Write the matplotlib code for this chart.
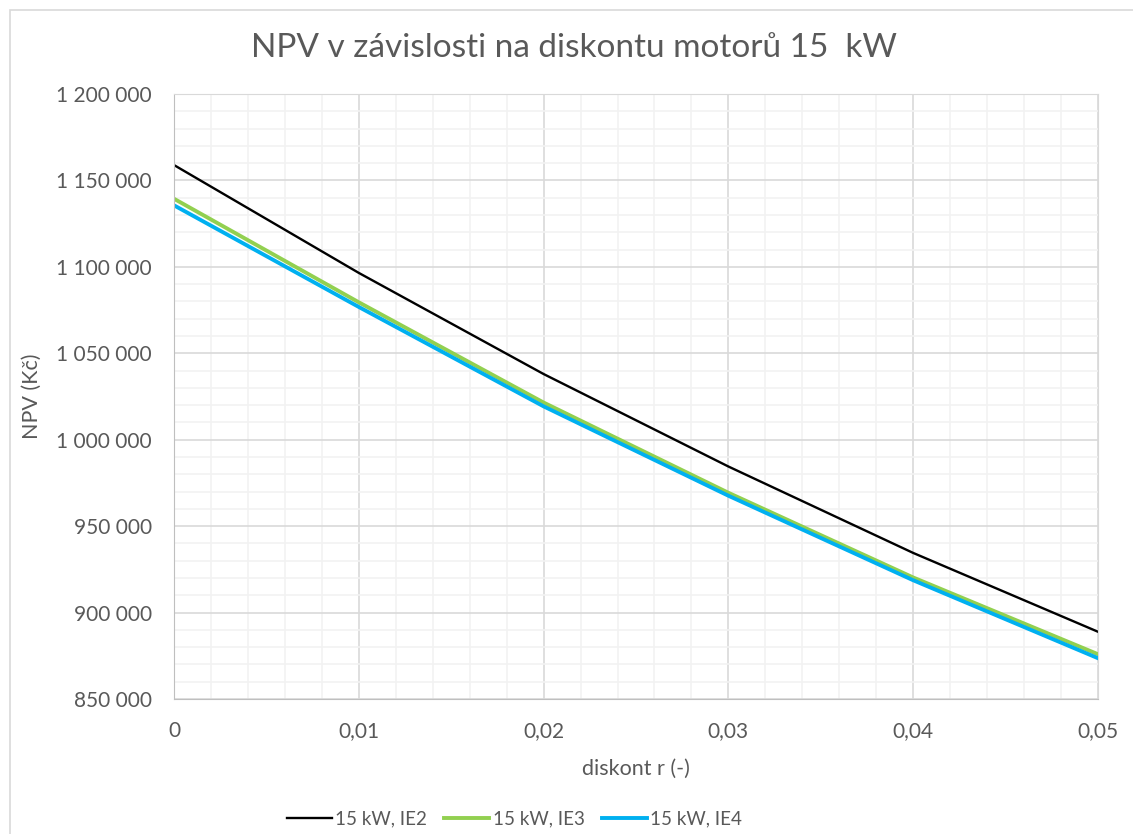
import numpy as np
import matplotlib.pyplot as plt
from matplotlib.patches import Rectangle
from matplotlib.ticker import MultipleLocator, FuncFormatter

# discount rate and NPV values
r = [0.0, 0.01, 0.02, 0.03, 0.04, 0.05]
npv_ie2 = [1158900, 1096500, 1038000, 984500, 934500, 888900]
npv_ie3 = [1139400, 1079500, 1021500, 969300, 920300, 875900]
npv_ie4 = [1135600, 1076800, 1019300, 967600, 918700, 873600]
labels = ['15 kW, IE2', '15 kW, IE3', '15 kW, IE4']

txt = '#595959'
plt.rcParams['font.family'] = ['Lato', 'DejaVu Sans']

fig = plt.figure(figsize=(11.33, 8.34), dpi=100)
# light frame round the chart area (cut off right/bottom like the original)
fig.patches.append(Rectangle((10 / 1133, -0.1), 1.2, 1 - 9.5 / 834 + 0.1,
                             transform=fig.transFigure, fill=False,
                             edgecolor='#D9D9D9', lw=1.2))

ax = fig.add_axes([174 / 1133, 1 - 699 / 834, (1098 - 174) / 1133, (699 - 94) / 834])

ax.plot(r, npv_ie2, color='black', lw=1.7, label=labels[0])
ax.plot(r, npv_ie3, color='#92D050', lw=2.8, label=labels[1])
ax.plot(r, npv_ie4, color='#00B0F0', lw=2.8, label=labels[2])

ax.set_xlim(0, 0.05)
ax.set_ylim(850000, 1200000)
ax.xaxis.set_major_locator(MultipleLocator(0.01))
ax.xaxis.set_minor_locator(MultipleLocator(0.002))
ax.yaxis.set_major_locator(MultipleLocator(50000))
ax.yaxis.set_minor_locator(MultipleLocator(10000))

def xfmt(v, pos):
    if abs(v) < 1e-9:
        return '0'
    return ('%.2f' % v).replace('.', ',')

def yfmt(v, pos):
    return '{:,.0f}'.format(v).replace(',', ' ')

ax.xaxis.set_major_formatter(FuncFormatter(xfmt))
ax.yaxis.set_major_formatter(FuncFormatter(yfmt))

ax.grid(which='major', color='#D9D9D9', lw=1.2)
ax.grid(which='minor', color='#F2F2F2', lw=1.2)
ax.set_axisbelow(True)
for s in ax.spines.values():
    s.set_color('#D9D9D9')
ax.spines['left'].set_color('#BFBFBF')
ax.spines['bottom'].set_color('#BFBFBF')
ax.tick_params(which='both', length=0, labelsize=15, colors=txt)
ax.tick_params(axis='y', pad=16)
ax.tick_params(axis='x', pad=16)

ax.set_xlabel('diskont r (-)', fontsize=15.5, color=txt, labelpad=13)
ax.set_ylabel('NPV (Kč)', fontsize=15.5, color=txt, labelpad=10)
fig.text(0.507, 1 - 48 / 834, 'NPV v závislosti na diskontu motorů 15  kW',
         ha='center', va='center', fontsize=24, color=txt)

leg = fig.legend(loc='center', bbox_to_anchor=(0.454, 1 - 819 / 834), ncol=3,
                 frameon=False, fontsize=13.5, handlelength=2.4, handletextpad=0.2,
                 columnspacing=0.9)
for t in leg.get_texts():
    t.set_color(txt)

fig.savefig('out.png', dpi=100)
